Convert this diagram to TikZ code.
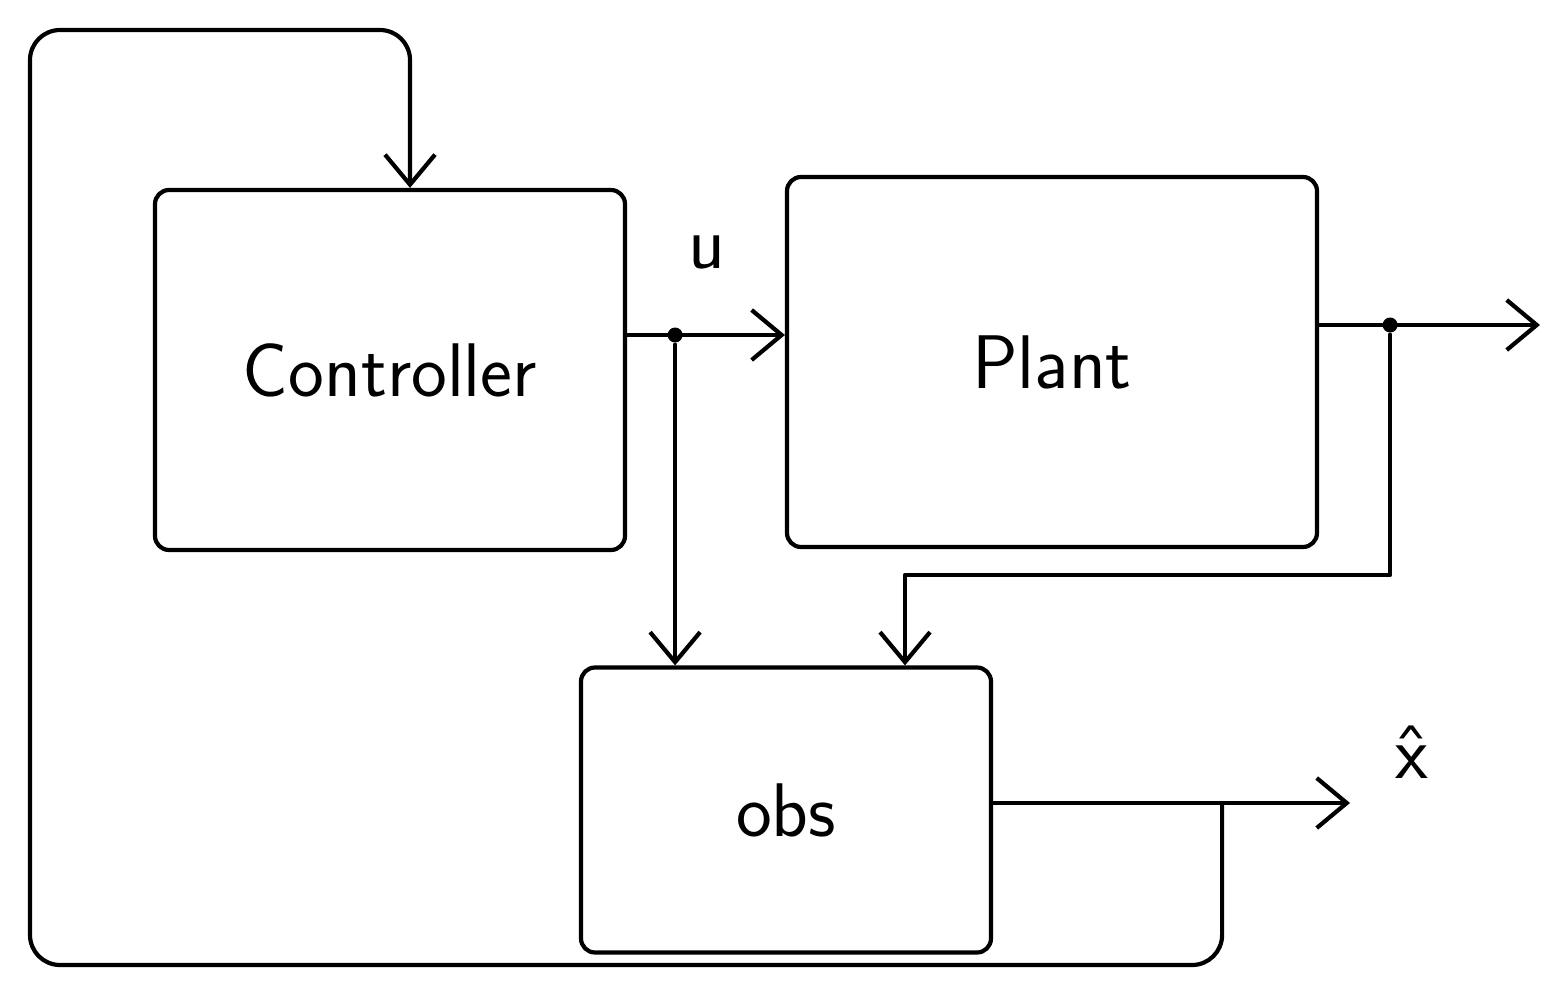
\documentclass[tikz,border=0pt]{standalone}
\usepackage{fontspec}
\usetikzlibrary{arrows.meta,calc}
\begin{document}
\begin{tikzpicture}[x=1pt,y=-1pt,
  line width=4.2pt, line cap=round, line join=round,
  block/.style={draw, rounded corners=14pt, inner sep=0pt,
    font=\sffamily\fontsize{76}{80}\selectfont},
  lbl/.style={font=\sffamily\fontsize{76}{80}\selectfont, inner sep=0pt},
  flow/.style={-{Straight Barb[length=30pt,width=50pt]}},
  junction/.style={circle, fill, inner sep=0pt, minimum size=15pt}]
\useasboundingbox (0,0) rectangle (1548,991);

% blocks
\node[block, minimum width=470pt, minimum height=360pt] (ctrl) at (390,370) {Controller};
\node[block, minimum width=530pt, minimum height=370pt] (plant) at (1052,362) {Plant};
\node[block, minimum width=410pt, minimum height=285pt] (obs) at (786,810) {obs};

% control signal u
\coordinate (uout) at ([yshift=35pt]ctrl.east);
\draw[flow] (uout) -- (uout -| plant.west);
\path (uout) ++(48,0) node[junction] (j1) {};
\node[lbl] (ulabel) at (707,252) {u};
\draw[flow] (j1) -- (j1 |- obs.north);

% plant output, measured by the observer
\coordinate (yout) at ([yshift=37pt]plant.east);
\coordinate (yend) at (1540,325);
\draw[flow] (yout) -- (yend);
\path (yout) ++(71,0) node[junction] (j2) {};
\coordinate (fb) at (905,575);
\draw[flow] (j2) |- (fb) -- (fb |- obs.north);

% state estimate
\coordinate (xout) at ([yshift=7pt]obs.east);
\coordinate (xend) at (1350,803);
\draw[flow] (xout) -- (xend);
\node[lbl] (xhat) at (1412,752) {\^{x}};

% estimate fed back to the controller
\path (xout) ++(229,0) coordinate (j3);
\coordinate (loopbl) at (30,965);
\coordinate (looptop) at (410,30);
\draw[flow, rounded corners=30pt] (j3) |- (loopbl) |- (looptop) -- (looptop |- ctrl.north);
\end{tikzpicture}
\end{document}
